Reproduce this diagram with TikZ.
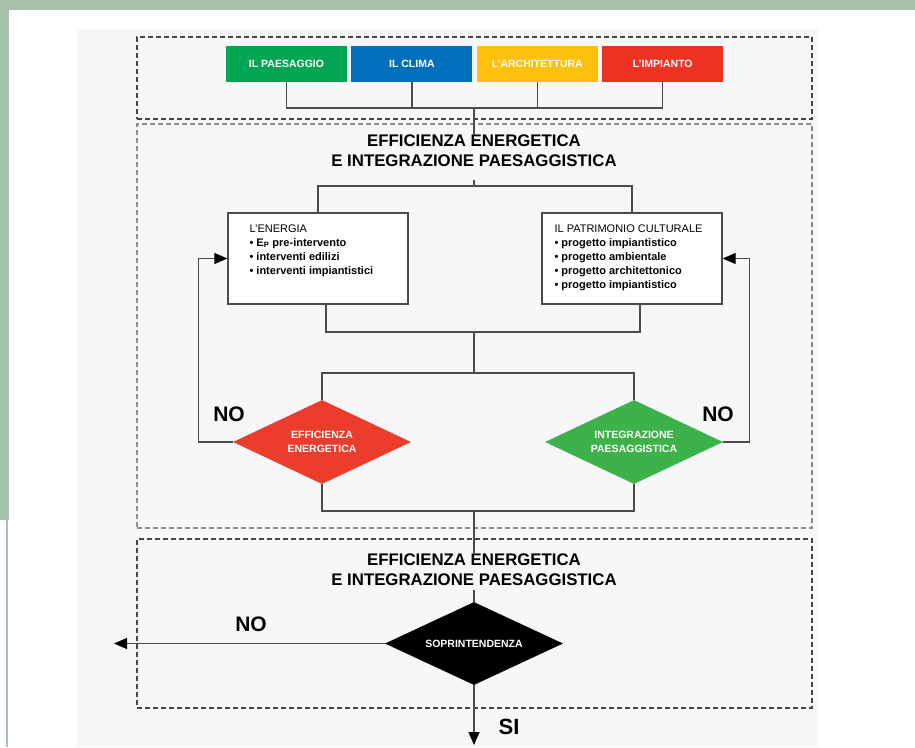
\documentclass[tikz,border=0pt]{standalone}
\usepackage{fontspec}
\setmainfont{Liberation Sans}
\usetikzlibrary{shapes.geometric, arrows.meta, positioning, calc, fit}
\definecolor{band}{RGB}{168,193,168}
\definecolor{panel}{RGB}{247,247,250}
\definecolor{paesaggio}{RGB}{0,166,81}
\definecolor{clima}{RGB}{0,112,188}
\definecolor{architettura}{RGB}{255,193,14}
\definecolor{impianto}{RGB}{237,50,36}
\definecolor{effic}{RGB}{236,60,44}
\definecolor{integr}{RGB}{62,178,74}
\definecolor{wirecol}{RGB}{75,75,75}
\definecolor{zonedark}{RGB}{70,70,70}
\definecolor{zonelight}{RGB}{140,140,140}
\newcommand{\choicetext}[1]{\makebox[0pt]{\smash{\raisebox{-3.5pt}{\begin{tabular}{@{}c@{}}#1\end{tabular}}}}}

\begin{document}
\begin{tikzpicture}[
    x=1pt, y=-1pt,
    tile/.style={rectangle, minimum width=121pt, minimum height=36pt, inner sep=0pt, text=white, font=\fontsize{10.5}{13}\selectfont\bfseries},
    infobox/.style={rectangle, draw=wirecol, line width=1.3pt, fill=white, minimum width=180pt, minimum height=91pt, inner sep=0pt},
    boxtext/.style={align=left, inner sep=0pt, anchor=north west, font=\fontsize{11}{14}\selectfont},
    choice/.style={diamond, minimum width=178pt, minimum height=84pt, inner sep=0pt, text=white, font=\fontsize{10.5}{14}\selectfont\bfseries},
    heading/.style={align=center, inner sep=0pt, font=\fontsize{16.8}{20}\selectfont\bfseries},
    answer/.style={inner sep=0pt, font=\fontsize{21}{24}\selectfont\bfseries},
    zone/.style={draw=#1, dash pattern=on 5pt off 3pt, line width=1.3pt, inner sep=0pt},
    wire/.style={draw=wirecol, line width=1.3pt},
    arrow/.style={wire, -{Triangle[length=13pt, width=11pt, color=black]}}
]

\fill[white] (0,0) rectangle (915,747);
\fill[panel] (77,29) rectangle (818,747);
\fill[band] (0,0) rectangle (915,10);
\fill[band] (0,0) rectangle (9,520);
\fill[band] (6,520) rectangle (8,747);
\useasboundingbox (0,0) rectangle (915,747);

\coordinate (z1a) at (137,37);
\coordinate (z1b) at (812,119);
\coordinate (z2a) at (137,124);
\coordinate (z2b) at (812,528);
\coordinate (z3a) at (137,539);
\coordinate (z3b) at (812,708);
\node[zone=zonedark, fit={(z1a) (z1b)}] (zone1) {};
\node[zone=zonelight, fit={(z2a) (z2b)}] (zone2) {};
\node[zone=zonedark, fit={(z3a) (z3b)}] (zone3) {};

\node[tile, fill=paesaggio] (paes) at (286.5,64) {IL PAESAGGIO};
\node[tile, fill=clima, right=4pt of paes] (clima) {IL CLIMA};
\node[tile, fill=architettura, right=4pt of clima] (arch) {L'ARCHITETTURA};
\node[tile, fill=impianto, right=4pt of arch] (imp) {L'IMPIANTO};

\node[heading] (title2) at (474,151) {EFFICIENZA ENERGETICA\\E INTEGRAZIONE PAESAGGISTICA};

\node[infobox] (ener) at (318,258.5) {};
\node[infobox] (patr) at (632,258.5) {};
\node[boxtext] (enertxt) at ([xshift=22pt, yshift=-12pt]ener.north west) {L'ENERGIA\\
  \textbf{\textbullet\ E\textsubscript{P} pre-intervento}\\
  \textbf{\textbullet\ interventi edilizi}\\
  \textbf{\textbullet\ interventi impiantistici}};
\node[boxtext] (patrtxt) at ([xshift=13pt, yshift=-12pt]patr.north west) {IL PATRIMONIO CULTURALE\\
  \textbf{\textbullet\ progetto impiantistico}\\
  \textbf{\textbullet\ progetto ambientale}\\
  \textbf{\textbullet\ progetto architettonico}\\
  \textbf{\textbullet\ progetto impiantistico}};

\node[choice, fill=effic] (effic) at (322,442) {\choicetext{EFFICIENZA\\ENERGETICA}};
\node[choice, fill=integr] (integr) at (634,442) {\choicetext{INTEGRAZIONE\\PAESAGGISTICA}};
\node[answer] (noleft) at (229,414) {NO};
\node[answer] (noright) at (718,414) {NO};

\node[heading] (title3) at (474,569.5) {EFFICIENZA ENERGETICA\\E INTEGRAZIONE PAESAGGISTICA};
\node[choice, fill=black, minimum height=83pt] (sopr) at (474,643.5) {\choicetext{SOPRINTENDENZA}};
\node[answer] (nobottom) at (251,624) {NO};
\node[answer, font=\fontsize{22}{24}\selectfont\bfseries] (si) at (509,727) {SI};

\coordinate (hub1) at (474,108);
\coordinate (hub2) at (474,186);
\coordinate (hub3) at (474,332);
\coordinate (hub4) at (474,373);
\coordinate (hub5) at (474,511);
\coordinate (exitno) at (114,643.5);
\coordinate (exitsi) at (474,745);

\draw[wire] (paes.south) |- (hub1) -| (imp.south);
\draw[wire] (clima.south) -- (clima.south |- hub1);
\draw[wire] (arch.south) -- (arch.south |- hub1);
\draw[wire] (hub1) -- (title2.north);

\draw[wire] ([yshift=-13pt]title2.south) -- (hub2);
\draw[wire] (ener.north) |- (hub2) -| (patr.north);

\draw[wire] ([xshift=8pt]ener.south) |- (hub3) -| ([xshift=8pt]patr.south);
\draw[wire] (hub3) -- (hub4);
\draw[wire] (effic.north) |- (hub4) -| (integr.north);

\draw[arrow] (effic.west) -| ([xshift=-29pt]ener.west) -- (ener.west);
\draw[arrow] (integr.east) -| ([xshift=27pt]patr.east) -- (patr.east);

\draw[wire] (effic.south) |- (hub5) -| (integr.south);
\draw[wire] (hub5) -- (title3.north);

\draw[wire] ([yshift=-4pt]title3.south) -- (sopr.north);
\draw[arrow] (sopr.west) -- (exitno);
\draw[arrow] (sopr.south) -- (exitsi);

\end{tikzpicture}
\end{document}
